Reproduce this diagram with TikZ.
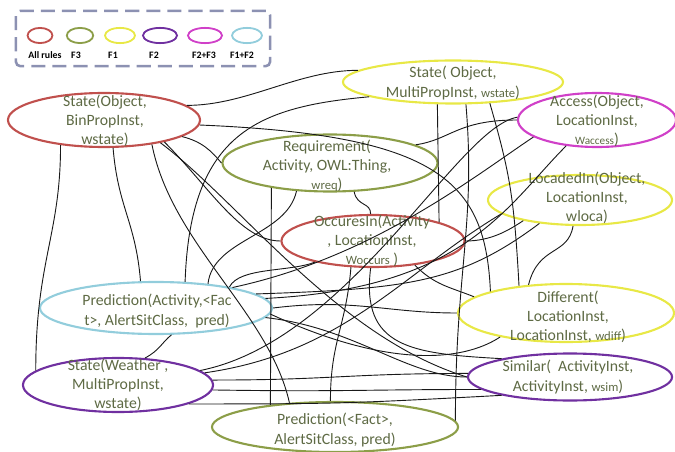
\documentclass[tikz,border=0pt]{standalone}
\usepackage{fontspec}
\setmainfont{Carlito}
\usetikzlibrary{shapes.geometric}
\definecolor{allrules}{RGB}{192,80,77}
\definecolor{fthree}{RGB}{140,158,72}
\definecolor{fone}{RGB}{232,232,70}
\definecolor{ftwo}{RGB}{112,48,160}
\definecolor{ftwothree}{RGB}{208,64,200}
\definecolor{fonetwo}{RGB}{146,205,220}
\definecolor{rtext}{RGB}{94,106,68}
\definecolor{legendline}{RGB}{140,145,178}
\tikzset{ctl/.style 2 args={to path={.. controls +(#1) and +(#2) .. (\tikztotarget)}}}

\begin{document}
\begin{tikzpicture}[x=0.025cm,y=-0.025cm,semithick,font=\fontsize{11.2}{13.6}\selectfont]
	\tikzstyle{rule}=[ellipse,draw,line width=1.5pt,inner sep=0pt]
	\tikzstyle{key}=[ellipse,draw,line width=1.3pt,minimum height=0.38cm,inner sep=0pt]
	\tikzstyle{keylabel}=[font=\fontsize{7}{8}\selectfont\bfseries,inner sep=0pt]
	\tikzstyle{rtxt}=[align=center,text=rtext,inner sep=0pt]
	\tikzstyle{link}=[draw=black!90,line width=0.65pt]
	\useasboundingbox (0,0) rectangle (675,452);
	
	% legend
	\node[draw=legendline,line width=1.8pt,dash pattern=on 10pt off 5pt,rounded corners=3pt,
		minimum width=6.35cm,minimum height=1.38cm] (legend) at (143,38.5) {};
	\node[key,draw=allrules,minimum width=0.62cm]  (k_all)  at (40,35.5)  {};
	\node[key,draw=fthree,minimum width=0.66cm]    (k_f3)   at (80,35.5)  {};
	\node[key,draw=fone,minimum width=0.75cm]      (k_f1)   at (120,35.5) {};
	\node[key,draw=ftwo,minimum width=0.85cm]      (k_f2)   at (160,35.5) {};
	\node[key,draw=ftwothree,minimum width=0.85cm] (k_f23)  at (205,35.5) {};
	\node[key,draw=fonetwo,minimum width=0.75cm]   (k_f12)  at (247,35.5) {};
	\node[keylabel] (l_all) at (45,55)  {All rules};
	\node[keylabel] (l_f3)  at (76,55)  {F3};
	\node[keylabel] (l_f1)  at (113,55) {F1};
	\node[keylabel] (l_f2)  at (154,55) {F2};
	\node[keylabel] (l_f23) at (204,55) {F2+F3};
	\node[keylabel] (l_f12) at (242,55) {F1+F2};
	
	% rules
	\node[rule,draw=allrules,minimum width=4.8cm,minimum height=1.35cm]    (sobj)     at (104,120) {};
	\node[rule,draw=fone,minimum width=5.5cm,minimum height=1.075cm]       (smulti)   at (453,82)  {};
	\node[rule,draw=ftwothree,minimum width=3.95cm,minimum height=1.35cm]  (access)   at (597,120) {};
	\node[rule,draw=fthree,minimum width=5.375cm,minimum height=1.425cm]   (req)      at (330,163) {};
	\node[rule,draw=fone,minimum width=4.6cm,minimum height=1.25cm]        (loca)     at (580,200) {};
	\node[rule,draw=allrules,minimum width=4.575cm,minimum height=1.3cm]   (occ)      at (373,241) {};
	\node[rule,draw=fonetwo,minimum width=5.8cm,minimum height=1.3cm]      (predact)  at (156,308) {};
	\node[rule,draw=fone,minimum width=5.4cm,minimum height=1.45cm]        (diff)     at (566,313) {};
	\node[rule,draw=ftwo,minimum width=4.75cm,minimum height=1.35cm]       (sweather) at (118,385) {};
	\node[rule,draw=ftwo,minimum width=5.1cm,minimum height=1.175cm]       (sim)      at (570,377) {};
	\node[rule,draw=fthree,minimum width=6.15cm,minimum height=1.25cm]     (predfact) at (335,427) {};
	
	\node[rtxt] (sobj_t)     at (105,121) {State(Object,\\BinPropInst,\\wstate)};
	\node[rtxt] (smulti_t)   at (453,83)  {State( Object,\\MultiPropInst, {\small wstate})};
	\node[rtxt] (access_t)   at (597,121) {Access(Object,\\LocationInst,\\{\footnotesize Waccess})};
	\node[rtxt] (req_t)      at (327,166) {Requirement(\\Activity, OWL:Thing,\\{\small wreq})};
	\node[rtxt] (loca_t)     at (587,198) {LocadedIn(Object,\\LocationInst,\\wloca)};
	\node[rtxt] (occ_t)      at (372,241) {OccuresIn(Activity\\, LocationInst,\\{\small Woccurs} )};
	\node[rtxt] (predact_t)  at (157,311) {Prediction(Activity,<Fac\\t>, AlertSitClass,~ pred)};
	\node[rtxt] (diff_t)     at (568,317) {Different(\\LocationInst,\\LocationInst, {\small wdiff})};
	\node[rtxt] (sweather_t) at (118,385) {State(Weather ,\\MultiPropInst,\\wstate)};
	\node[rtxt] (sim_t)      at (568,377) {Similar(~ ActivityInst,\\ActivityInst, {\small wsim})};
	\node[rtxt] (predfact_t) at (335,430) {Prediction(<Fact>,\\AlertSitClass, pred)};
	
	% links
	\path[link] (sobj.10)   edge[ctl={60,0}{-60,0}]      (smulti.173)
	(sobj.-3)   edge[ctl={240,10}{-5,-110}]  (diff.164)
	(sobj.-12)  edge[ctl={20,5}{-10,-12}]    (req.180)
	(sobj.-20)  edge[ctl={45,45}{-40,0}]     (occ.180)
	(sobj.-22)  edge[ctl={80,60}{-130,-40}]  (sim.180)
	(sobj.-27)  edge[ctl={20,100}{-20,-90}]  (predfact.152)
	(sobj.-72)  edge[ctl={5,60}{-5,-60}]     (predact.120)
	(sobj.-150) edge[ctl={0,90}{0,-110}]     (sweather.170);
	
	\path[link] (smulti.190) edge[ctl={-110,10}{5,-150}] (predact.42)
	(smulti.-125) edge (occ.16)
	(smulti.-60)  edge[ctl={10,120}{0,-150}] (predfact.3)
	(smulti.-30)  edge[ctl={20,70}{-5,-90}]  (diff.150)
	(access.180)  edge[ctl={-60,0}{35,-5}]   (req.12)
	(access.-165) edge[ctl={-60,40}{140,-30}] (predact.15)
	(access.178)  edge[ctl={-60,10}{150,-30}] (sweather.10);
	
	\path[link] (occ.0)    edge[ctl={25,0}{-15,10}]   (loca.-160)
	(loca.-105) edge[ctl={-5,30}{10,-40}]  (diff.143)
	(occ.-30)   edge[ctl={20,20}{-25,-10}] (diff.170)
	(occ.-130)  edge[ctl={-5,60}{0,-60}]   (predfact.100)
	(occ.-95)   edge[ctl={-10,80}{-90,-5}] (sim.165)
	(occ.-160)  edge[ctl={-25,10}{10,-20}] (predact.16)
	(req.-157)  edge (predfact.161)
	(req.-50)   edge[ctl={3,15}{0,-12}]    (occ.95)
	(req.-140)  edge[ctl={-10,45}{5,-45}]  (predact.25);
	
	\path[link] (predact.0)  edge[ctl={80,-10}{-70,0}]   (diff.180)
	(predact.-5)  edge[ctl={90,10}{-60,0}]     (sim.180)
	(predact.-3)  edge[ctl={130,60}{-30,20}]   (diff.-160)
	(predact.-60) edge[ctl={-10,8}{15,-8}]     (sweather.45)
	(predact.8)   edge[ctl={150,-5}{-80,60}]   (loca.-150)
	(predact.5)   edge[ctl={200,-10}{-60,60}]  (access.-140)
	(sweather.3)  edge[ctl={120,0}{-120,0}]    (sim.178)
	(sweather.-3) edge[ctl={130,2}{-120,0}]    (sim.-172)
	(sweather.-15) edge[ctl={150,0}{-150,8}]   (sim.-165)
	(sweather.8)  edge[ctl={140,-20}{-100,60}] (loca.-170);
\end{tikzpicture}
\end{document}
